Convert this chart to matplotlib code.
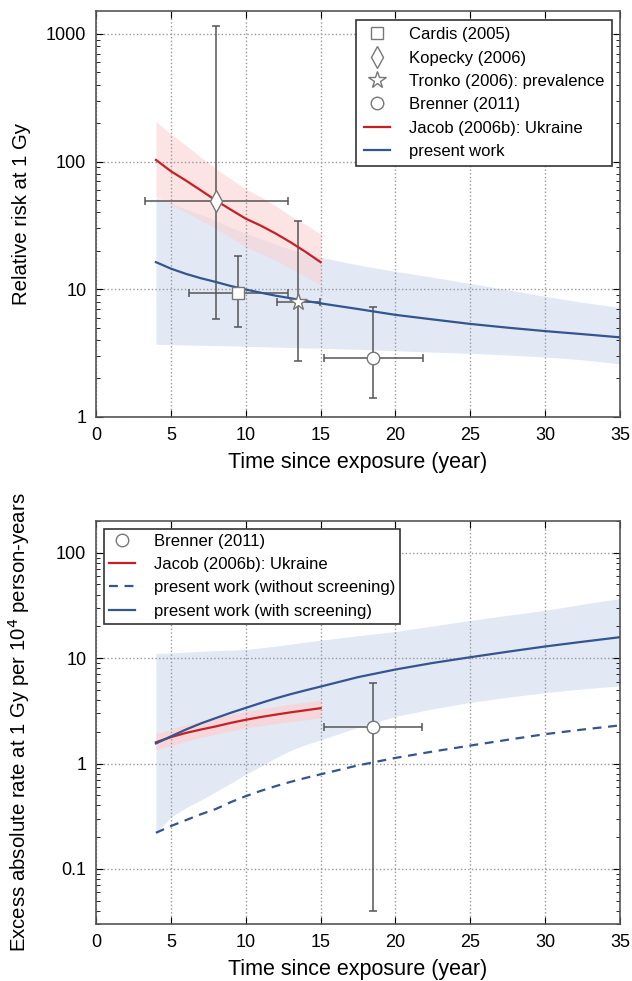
import matplotlib
matplotlib.use('Agg')
import matplotlib.pyplot as plt

plt.rcParams['font.family'] = ['Liberation Sans', 'DejaVu Sans']

# ---- top panel: relative risk at 1 Gy ----
t_model = [4, 5, 6, 7, 8, 9, 10, 11, 12, 13, 14, 15, 17.5, 20, 22.5, 25, 27.5, 30, 32.5, 35]
rr_present = [16.3, 14.5, 13.2, 12.2, 11.4, 10.6, 9.95, 9.4, 8.9, 8.5, 8.1, 7.75,
              7.0, 6.3, 5.8, 5.35, 5.0, 4.7, 4.45, 4.2]
rr_present_hi = [52, 47, 42.5, 38.5, 34.5, 30.5, 27.5, 25, 22.5, 20.5, 19, 17.8,
                 15.5, 13.8, 12.4, 11.1, 9.9, 8.8, 7.9, 7.2]
rr_present_lo = [3.7, 3.68, 3.66, 3.64, 3.62, 3.6, 3.57, 3.55, 3.52, 3.5, 3.47, 3.45,
                 3.38, 3.3, 3.22, 3.15, 3.05, 2.95, 2.8, 2.6]

t_jacob = [4, 5, 6, 7, 8, 9, 10, 11, 12, 13, 14, 15]
rr_jacob = [103, 84, 71, 59.5, 49.6, 42, 35.7, 31.5, 27.3, 23.3, 19.6, 16.3]
rr_jacob_hi = [206, 164, 134, 108, 88, 73, 61, 53, 45, 37.5, 32, 27.2]
rr_jacob_lo = [53, 46, 40, 34.5, 29.8, 25.3, 21.4, 19, 16.8, 14.5, 12.5, 10.8]

studies = ['Cardis (2005)', 'Kopecky (2006)', 'Tronko (2006): prevalence', 'Brenner (2011)']
markers = ['s', 'd', '*', 'o']
st_t = [9.5, 8.0, 13.5, 18.5]
st_t_lo = [6.2, 3.3, 12.1, 15.2]
st_t_hi = [12.85, 12.8, 14.95, 21.85]
st_rr = [9.4, 49, 7.9, 2.9]
st_rr_lo = [5.05, 5.8, 2.75, 1.41]
st_rr_hi = [18.2, 1150, 34, 7.3]

# ---- bottom panel: excess absolute rate ----
t_jacob2 = [4, 5, 6, 7, 8, 9, 10, 11, 12, 13, 14, 15]
ear_jacob = [1.59, 1.78, 1.95, 2.1, 2.25, 2.43, 2.6, 2.76, 2.91, 3.06, 3.2, 3.35]
ear_jacob_hi = [1.92, 2.12, 2.33, 2.52, 2.72, 2.92, 3.12, 3.3, 3.48, 3.66, 3.83, 4.0]
ear_jacob_lo = [1.34, 1.48, 1.62, 1.76, 1.9, 2.03, 2.17, 2.28, 2.39, 2.5, 2.6, 2.7]

ear_scr = [1.55, 1.81, 2.1, 2.4, 2.7, 3.03, 3.37, 3.75, 4.15, 4.55, 4.95, 5.37,
           6.6, 7.8, 9.0, 10.2, 11.5, 12.9, 14.3, 15.8]
ear_scr_hi = [11.1, 11.2, 11.4, 11.6, 11.8, 11.9, 12.1, 12.5, 13.0, 13.6, 14.2, 14.8,
              16.3, 17.9, 20.2, 22.8, 25.5, 28.4, 32.5, 36.8]
ear_scr_lo = [0.22, 0.31, 0.38, 0.45, 0.54, 0.65, 0.79, 0.94, 1.13, 1.33, 1.51, 1.68,
              2.2, 2.8, 3.3, 3.8, 4.25, 4.7, 5.1, 5.45]
ear_noscr = [0.22, 0.255, 0.29, 0.33, 0.37, 0.43, 0.49, 0.55, 0.61, 0.67, 0.73, 0.79,
             0.96, 1.13, 1.3, 1.48, 1.68, 1.9, 2.1, 2.3]

br_t, br_t_lo, br_t_hi = 18.5, 15.2, 21.8
br_ear, br_ear_lo, br_ear_hi = 2.23, 0.04, 5.8

RED = '#c62027'
BLUE = '#34558f'
BAND_BLUE = '#dde6f4'
BAND_RED = '#fbd3d5'
ERR = '#555555'
EDGE = '#777777'
MS = {'s': 8, 'd': 11, '*': 13, 'o': 9}


def style_axes(ax):
    ax.set_yscale('log')
    ax.set_xlim(0, 35)
    ax.set_xticks(range(0, 36, 5))
    ax.grid(True, which='major', linestyle=':', color='#999999', linewidth=1)
    ax.tick_params(which='both', direction='in', top=True, right=True, labelsize=13, pad=7)
    ax.tick_params(which='major', length=5)
    ax.tick_params(which='minor', length=3)
    for s in ax.spines.values():
        s.set_color('#555555')
        s.set_linewidth(1.2)
    ax.set_xlabel('Time since exposure (year)', fontsize=15.5, labelpad=6)
    ax.yaxis.set_major_formatter(matplotlib.ticker.FuncFormatter(lambda v, p: '%g' % v))


fig = plt.figure(figsize=(6.32, 9.81), dpi=100)
ax1 = fig.add_axes([0.152, 0.575, 0.829, 0.4134])
ax2 = fig.add_axes([0.152, 0.0581, 0.829, 0.4108])

# top
ax1.fill_between(t_model, rr_present_lo, rr_present_hi, color=BAND_BLUE, lw=0, alpha=0.85)
ax1.fill_between(t_jacob, rr_jacob_lo, rr_jacob_hi, color=BAND_RED, lw=0, alpha=0.6)
for i in range(len(studies)):
    ax1.errorbar(st_t[i], st_rr[i],
                 xerr=[[st_t[i] - st_t_lo[i]], [st_t_hi[i] - st_t[i]]],
                 yerr=[[st_rr[i] - st_rr_lo[i]], [st_rr_hi[i] - st_rr[i]]],
                 fmt='none', ecolor=ERR, elinewidth=1.1, capsize=3, capthick=1.1, zorder=3)
h_st = []
for i in range(len(studies)):
    h, = ax1.plot(st_t[i], st_rr[i], linestyle='none', marker=markers[i], ms=MS[markers[i]],
                  mfc='white', mec=EDGE, mew=1, zorder=5, label=studies[i])
    h_st.append(h)
h_j, = ax1.plot(t_jacob, rr_jacob, color=RED, lw=1.6, label='Jacob (2006b): Ukraine', zorder=4)
h_p, = ax1.plot(t_model, rr_present, color=BLUE, lw=1.6, label='present work', zorder=4)
style_axes(ax1)
ax1.set_ylim(1, 1500)
ax1.set_ylabel('Relative risk at 1 Gy', fontsize=14.7)
ax1.yaxis.set_label_coords(-0.124, 0.5)
leg = ax1.legend(handles=h_st + [h_j, h_p], loc='upper right', fontsize=12, numpoints=1,
                 fancybox=False, framealpha=1, edgecolor='#333333', handlelength=1.6,
                 handletextpad=1.1, borderpad=0.45, labelspacing=0.5, borderaxespad=0.5)
leg.get_frame().set_linewidth(1.2)

# bottom
ax2.fill_between(t_model, ear_scr_lo, ear_scr_hi, color=BAND_BLUE, lw=0, alpha=0.85)
ax2.fill_between(t_jacob2, ear_jacob_lo, ear_jacob_hi, color=BAND_RED, lw=0, alpha=0.8)
ax2.errorbar(br_t, br_ear, xerr=[[br_t - br_t_lo], [br_t_hi - br_t]],
             yerr=[[br_ear - br_ear_lo], [br_ear_hi - br_ear]],
             fmt='none', ecolor=ERR, elinewidth=1.1, capsize=3, capthick=1.1, zorder=3)
h_b, = ax2.plot(br_t, br_ear, linestyle='none', marker='o', ms=MS['o'], mfc='white', mec=EDGE,
                mew=1, zorder=5, label='Brenner (2011)')
h_j2, = ax2.plot(t_jacob2, ear_jacob, color=RED, lw=1.6, label='Jacob (2006b): Ukraine', zorder=4)
h_n, = ax2.plot(t_model, ear_noscr, color=BLUE, lw=1.6, ls=(0, (4, 3)),
                label='present work (without screening)', zorder=4)
h_s, = ax2.plot(t_model, ear_scr, color=BLUE, lw=1.6, label='present work (with screening)', zorder=4)
style_axes(ax2)
ax2.set_ylim(0.03, 200)
ax2.set_ylabel('Excess absolute rate at 1 Gy per 10$^4$ person-years', fontsize=14.7)
ax2.yaxis.set_label_coords(-0.122, 0.5)
leg2 = ax2.legend(handles=[h_b, h_j2, h_n, h_s], loc='upper left', fontsize=12, numpoints=1,
                  fancybox=False, framealpha=1, edgecolor='#333333', handlelength=1.6,
                  handletextpad=1.1, borderpad=0.3, labelspacing=0.5, borderaxespad=0.45)
leg2.get_frame().set_linewidth(1.2)

fig.savefig('out.png', dpi=100)
